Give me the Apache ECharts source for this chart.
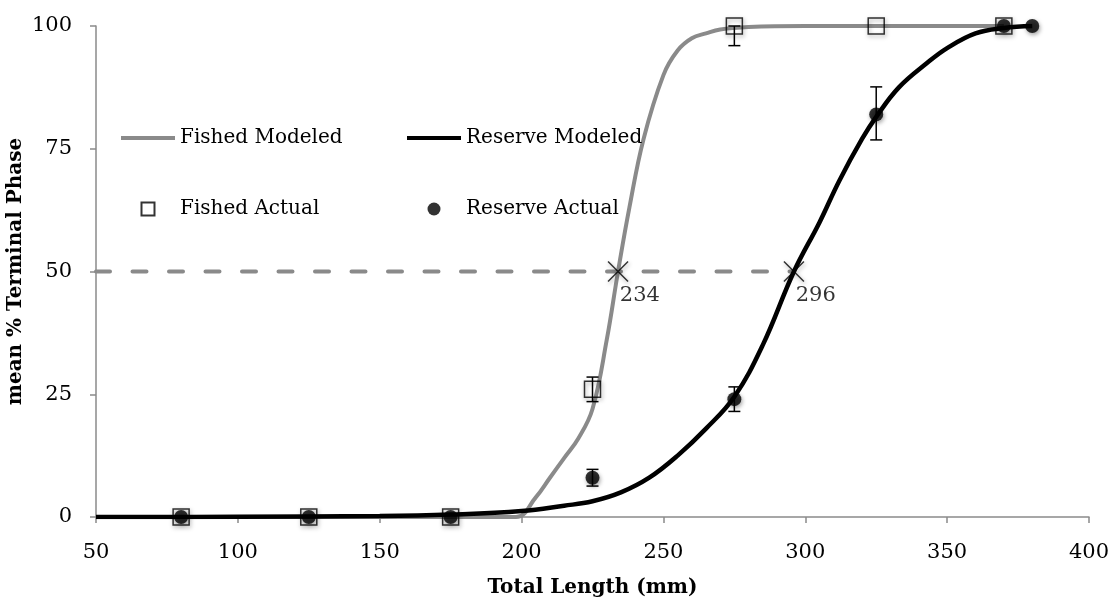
<!DOCTYPE html>
<html>
<head>
<meta charset="utf-8">
<script src="https://cdn.jsdelivr.net/npm/echarts@6/dist/echarts.min.js"></script>
<style>
  html, body { margin: 0; padding: 0; background: #fff; }
  #chart { width: 1113px; height: 609px; }
</style>
</head>
<body>
<div id="chart"></div>
<script>
// Modeled maturation curves (total length in mm, % terminal phase)
const fishedModelX = [50, 100, 150, 198, 205, 210, 215, 220, 225, 230, 234, 238, 243, 250, 255, 260, 265, 270, 280, 300, 325, 370];
const fishedModelY = [0, 0, 0, 0, 4, 8, 12, 16, 22, 36, 50, 63, 77, 90, 95, 97.5, 98.5, 99.3, 99.8, 100, 100, 100];

const reserveModelX = [50, 100, 150, 175, 200, 215, 225, 235, 245, 255, 265, 275, 285, 296, 305, 312, 320, 325, 333, 343, 350, 360, 370, 380];
const reserveModelY = [0, 0.05, 0.2, 0.5, 1.2, 2.3, 3.2, 5, 8, 12.5, 18, 24.5, 35, 50, 60, 68.5, 77, 81.5, 87.5, 92.5, 95.5, 98.5, 99.6, 100];

// Observed means by size class
const fishedActualX = [80, 125, 175, 225, 275, 325, 370];
const fishedActualY = [0, 0, 0, 26, 100, 100, 100];
const fishedErrMinus = [0, 0, 0, 2.5, 4, 0, 0];
const fishedErrPlus = [0, 0, 0, 2.5, 0, 0, 0];

const reserveActualX = [80, 125, 175, 225, 275, 325, 370, 380];
const reserveActualY = [0, 0, 0, 8, 24, 82, 100, 100];
const reserveErrMinus = [0, 0, 0, 1.7, 2.5, 5.2, 0, 0];
const reserveErrPlus = [0, 0, 0, 1.7, 2.5, 5.6, 0, 0];

// 50% maturity lengths
const l50X = [234, 296];
const l50Y = [50, 50];
const l50Labels = ['234', '296'];
const refLineX = [50, 296];
const refLineY = [50, 50];

const FONT = 'DejaVu Serif';

const pairs = (xs, ys) => xs.map((x, i) => [x, ys[i]]);
const errRows = (xs, ys, lo, hi) => xs.map((x, i) => [x, ys[i], ys[i] - lo[i], ys[i] + hi[i]])
  .filter(r => r[2] !== r[3]);

function renderErr(params, api) {
  const lo = api.coord([api.value(0), api.value(2)]);
  const hi = api.coord([api.value(0), api.value(3)]);
  const half = 6;
  const style = { stroke: '#000', lineWidth: 1.5 };
  return {
    type: 'group',
    children: [
      { type: 'line', shape: { x1: lo[0], y1: lo[1], x2: hi[0], y2: hi[1] }, style },
      { type: 'line', shape: { x1: lo[0] - half, y1: lo[1], x2: lo[0] + half, y2: lo[1] }, style },
      { type: 'line', shape: { x1: hi[0] - half, y1: hi[1], x2: hi[0] + half, y2: hi[1] }, style }
    ]
  };
}

const shadow = { shadowColor: 'rgba(0,0,0,0.45)', shadowBlur: 4, shadowOffsetX: 1, shadowOffsetY: 2 };
const squarePath = 'path://M0,0H10V10H0Z';
const lineIcon = 'path://M0,0H54V4H0Z';
const legendText = { fontFamily: FONT, fontSize: 20, color: '#000' };

const chart = echarts.init(document.getElementById('chart'), null, { renderer: 'canvas' });
chart.setOption({
  animation: false,
  backgroundColor: '#fff',
  textStyle: { fontFamily: FONT },
  grid: { left: 96, right: 24, top: 26, bottom: 92, containLabel: false, outerBoundsMode: 'none' },
  legend: [
    {
      left: 116, top: 123, orient: 'vertical', itemWidth: 54, itemHeight: 13, itemGap: 51,
      symbolKeepAspect: true, textStyle: legendText,
      data: [{ name: 'Fished Modeled', icon: lineIcon }, 'Fished Actual']
    },
    {
      left: 402, top: 123, orient: 'vertical', itemWidth: 54, itemHeight: 13, itemGap: 51,
      symbolKeepAspect: true, textStyle: legendText,
      data: [{ name: 'Reserve Modeled', icon: lineIcon }, 'Reserve Actual']
    }
  ],
  xAxis: {
    type: 'value', min: 50, max: 400, interval: 50,
    name: 'Total Length (mm)', nameLocation: 'middle', nameGap: 61,
    nameTextStyle: { fontFamily: FONT, fontSize: 20, fontWeight: 'bold', color: '#000' },
    axisLine: { lineStyle: { color: '#8a8a8a', width: 1.5 } },
    axisTick: { show: true, length: 6, lineStyle: { color: '#8a8a8a', width: 1.5 } },
    axisLabel: { fontFamily: FONT, fontSize: 21, color: '#000', margin: 25 },
    splitLine: { show: false }
  },
  yAxis: {
    type: 'value', min: 0, max: 100, interval: 25,
    name: 'mean % Terminal Phase', nameLocation: 'middle', nameGap: 70, nameMoveOverlap: false,
    nameTextStyle: { fontFamily: FONT, fontSize: 20, fontWeight: 'bold', color: '#000' },
    axisLine: { show: true, lineStyle: { color: '#8a8a8a', width: 1.5 } },
    axisTick: { show: true, length: 6, lineStyle: { color: '#8a8a8a', width: 1.5 } },
    axisLabel: { fontFamily: FONT, fontSize: 21, color: '#000', margin: 24 },
    splitLine: { show: false }
  },
  series: [
    {
      name: 'L50 reference', type: 'line', data: pairs(refLineX, refLineY),
      symbol: 'none', silent: true, z: 2,
      lineStyle: { color: '#8a8a8a', width: 4, type: [14, 22.5], cap: 'round' }
    },
    {
      name: 'Fished Modeled', type: 'line', data: pairs(fishedModelX, fishedModelY),
      symbol: 'none', smooth: 0.4, z: 3,
      itemStyle: { color: '#8a8a8a' },
      lineStyle: { color: '#8a8a8a', width: 4 }
    },
    {
      name: 'Reserve Modeled', type: 'line', data: pairs(reserveModelX, reserveModelY),
      symbol: 'none', smooth: 0.4, z: 4,
      itemStyle: { color: '#000' },
      lineStyle: { color: '#000', width: 4.5 }
    },
    {
      name: 'Fished Actual', type: 'scatter', data: pairs(fishedActualX, fishedActualY),
      symbol: squarePath, symbolSize: 16, z: 5,
      itemStyle: Object.assign({ color: 'rgba(255,255,255,0)', borderColor: '#000', borderWidth: 1.5 }, shadow)
    },
    {
      name: 'Reserve Actual', type: 'scatter', data: pairs(reserveActualX, reserveActualY),
      symbol: 'circle', symbolSize: 14, z: 6,
      itemStyle: Object.assign({ color: '#000' }, shadow)
    },
    {
      name: 'Fished error', type: 'custom', renderItem: renderErr, z: 7,
      data: errRows(fishedActualX, fishedActualY, fishedErrMinus, fishedErrPlus),
      encode: { x: 0, y: [2, 3] }
    },
    {
      name: 'Reserve error', type: 'custom', renderItem: renderErr, z: 7,
      data: errRows(reserveActualX, reserveActualY, reserveErrMinus, reserveErrPlus),
      encode: { x: 0, y: [2, 3] }
    },
    {
      name: 'L50', type: 'scatter', z: 8,
      data: pairs(l50X, l50Y).map((p, i) => ({ value: p, label: { formatter: l50Labels[i] } })),
      symbol: 'path://M0,0L10,10M10,0L0,10', symbolSize: 20,
      itemStyle: Object.assign({ color: 'rgba(0,0,0,0)', borderColor: '#000', borderWidth: 1.5 }, shadow),
      label: {
        show: true, position: 'right', offset: [-14, 24],
        fontFamily: FONT, fontSize: 21, color: '#000',
        textShadowBlur: 0, textShadowColor: 'transparent'
      }
    }
  ]
});
</script>
</body>
</html>
